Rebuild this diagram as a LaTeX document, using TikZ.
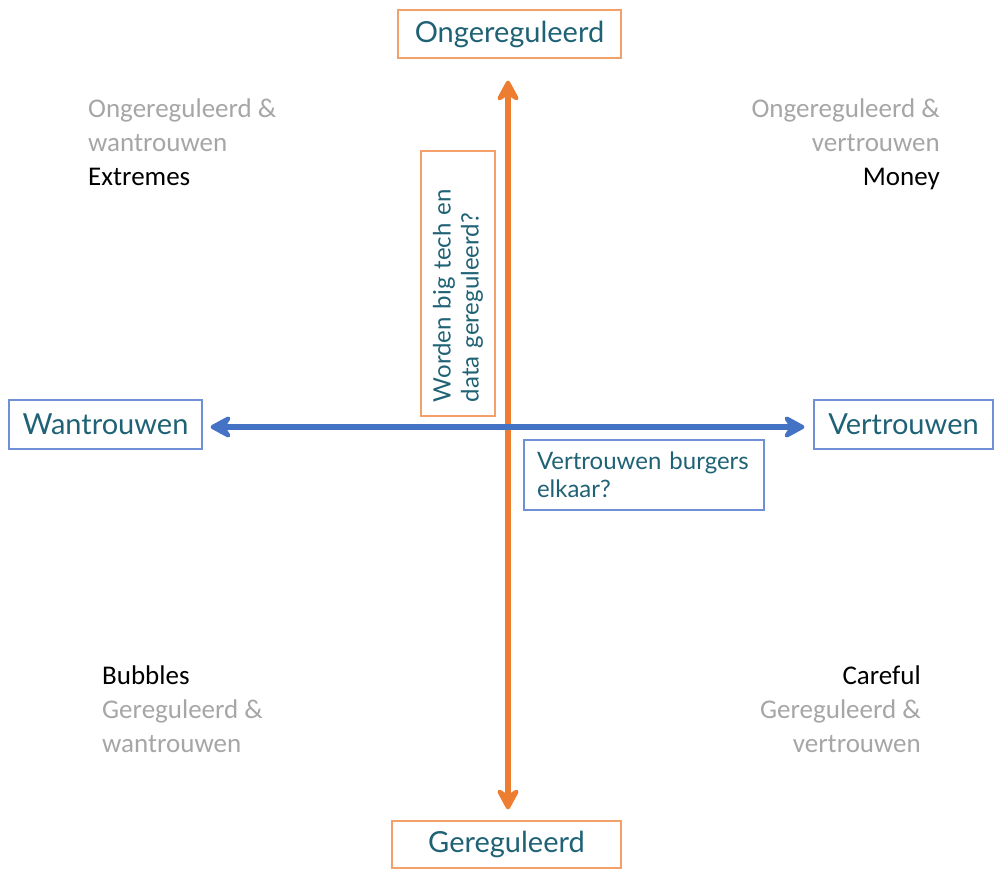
\documentclass[tikz,border=0pt]{standalone}
\usepackage{fontspec}
\setmainfont{Carlito}
\newfontfamily\axisfont{Lato}
\usetikzlibrary{arrows.meta}

\definecolor{axisorange}{HTML}{ED7D31}
\definecolor{axisblue}{HTML}{4472C4}
\definecolor{frameorange}{HTML}{F4A06A}
\definecolor{frameblue}{HTML}{6F8FD6}
\definecolor{labelteal}{HTML}{1F6275}
\definecolor{softgrey}{HTML}{A6A6A6}

\tikzset{
  axislabel/.style={draw,line width=1.2pt,text=labelteal,inner sep=0pt,
    font=\axisfont\fontsize{29}{33}\selectfont},
  question/.style={draw,line width=1.2pt,text=labelteal,inner sep=0pt,
    font=\axisfont\fontsize{24}{28}\selectfont},
  corner/.style={inner sep=0pt,font=\fontsize{27}{34}\selectfont},
  axisarrow/.style={line width=5.5pt,
    arrows={Stealth[round,length=26pt,width=28pt,inset=9pt]-Stealth[round,length=26pt,width=28pt,inset=9pt]}}
}

\begin{document}
\begin{tikzpicture}[x=1pt,y=-1pt]
  \useasboundingbox (0,0) rectangle (997,870);

  % axis end labels
  \node[axislabel,draw=frameorange,minimum width=223pt,minimum height=48pt] (ong) at (509.5,34) {Ongereguleerd};
  \node[axislabel,draw=frameorange,minimum width=229pt,minimum height=47pt] (ger) at (506.5,844.5) {Gereguleerd};
  \node[axislabel,draw=frameblue,minimum width=193pt,minimum height=49pt] (wan) at (105.5,424.5) {Wantrouwen};
  \node[axislabel,draw=frameblue,minimum width=179pt,minimum height=49pt] (ver) at (903.5,424.5) {Vertrouwen};

  \coordinate (o) at (508,427);

  % the two axes
  \draw[axisarrow,axisorange,shorten <=22pt,shorten >=11pt] (o |- ong.south) -- (o |- ger.north);
  \draw[axisarrow,axisblue,shorten <=8pt,shorten >=9pt] (wan.east |- o) -- (ver.west |- o);

  % axis questions
  \node[question,draw=frameorange,minimum width=265pt,minimum height=74pt,rotate=90,
        align=left,text width=237pt] (regq) at (458,283.5) {Worden big tech en\\data gereguleerd?};
  \node[question,draw=frameblue,minimum width=240pt,minimum height=70pt,
        align=left,text width=214pt] (trustq) at (644,475) {Vertrouwen burgers\\elkaar?};

  % quadrants
  \node[corner,anchor=north west,align=left] (tl) at (88,99)
    {\textcolor{softgrey}{Ongereguleerd \&}\\\textcolor{softgrey}{wantrouwen}\\Extremes};
  \node[corner,anchor=north east,align=right] (tr) at (940,99)
    {\textcolor{softgrey}{Ongereguleerd \&}\\\textcolor{softgrey}{vertrouwen}\\Money};
  \node[corner,anchor=north west,align=left] (bl) at (102,666)
    {Bubbles\\\textcolor{softgrey}{Gereguleerd \&}\\\textcolor{softgrey}{wantrouwen}};
  \node[corner,anchor=north east,align=right] (br) at (921,666)
    {Careful\\\textcolor{softgrey}{Gereguleerd \&}\\\textcolor{softgrey}{vertrouwen}};
\end{tikzpicture}
\end{document}
